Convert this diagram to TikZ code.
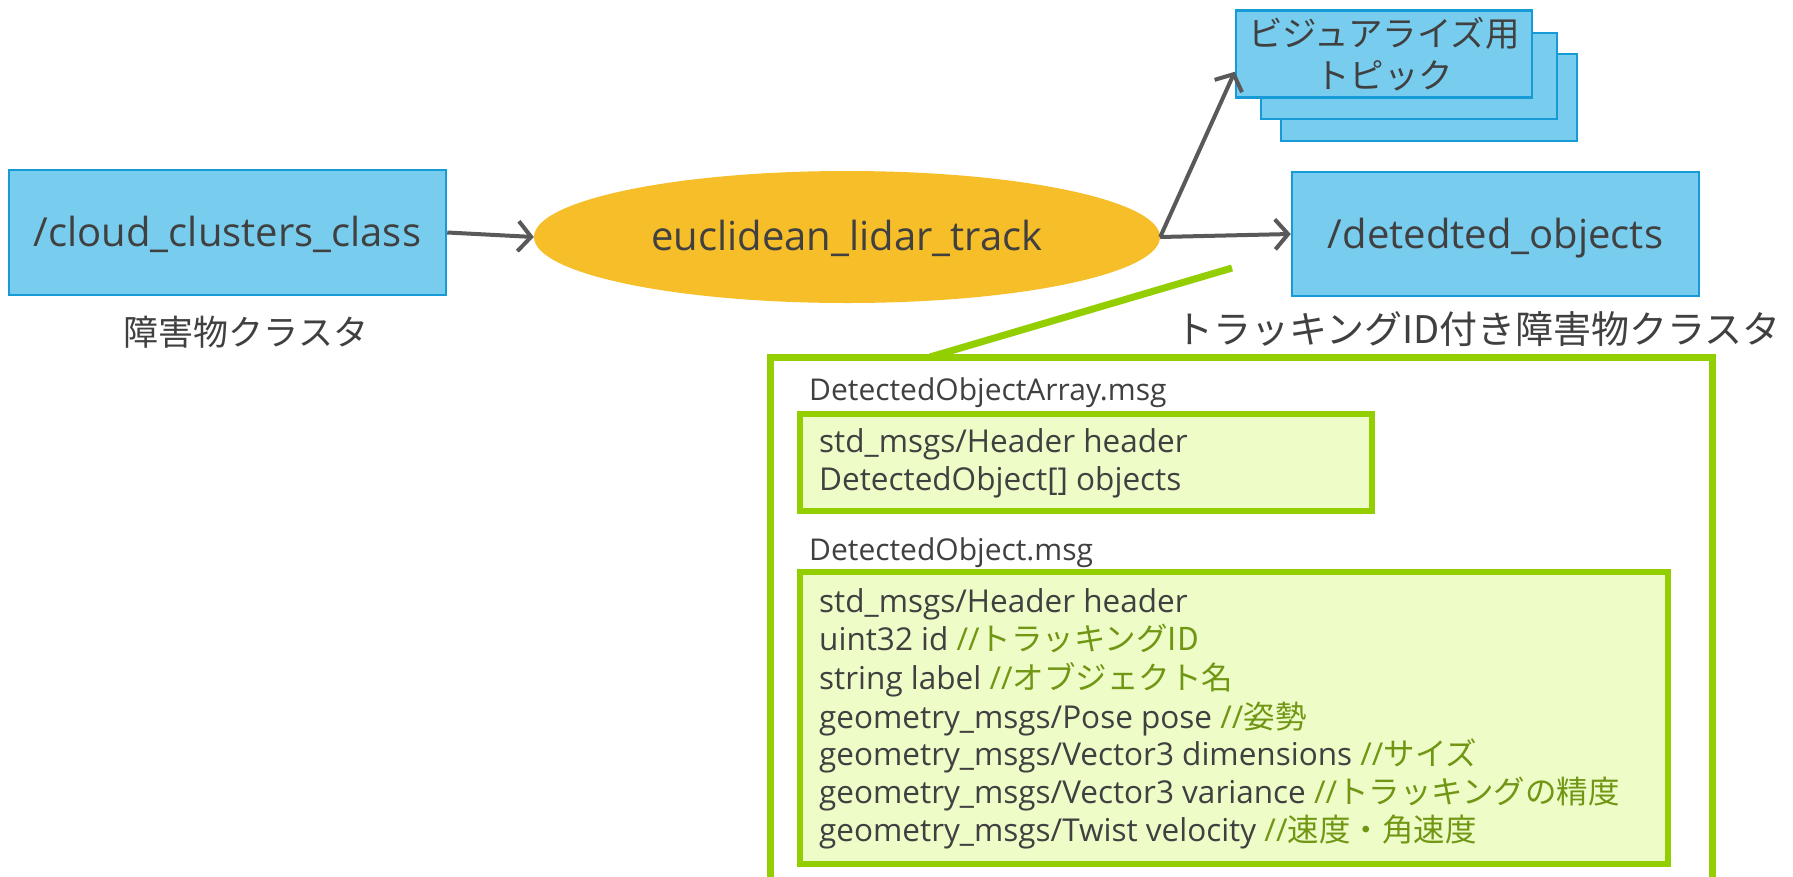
\documentclass[tikz,border=0pt]{standalone}
\usepackage{fontspec}
\setmainfont{Open Sans}
\newfontfamily\cjk{Noto Sans CJK JP}
\usetikzlibrary{shapes.geometric,arrows.meta}
\definecolor{boxblue}{RGB}{120,205,239}
\definecolor{boxedge}{RGB}{22,155,214}
\definecolor{ellfill}{RGB}{246,190,40}
\definecolor{txt}{RGB}{64,64,64}
\definecolor{arrowgray}{RGB}{89,89,89}
\definecolor{gline}{RGB}{146,206,0}
\definecolor{gfill}{RGB}{238,252,200}
\definecolor{cmt}{RGB}{112,150,20}
\begin{document}
\begin{tikzpicture}[x=1pt,y=-1pt,
  topic/.style={draw=boxedge, line width=2.5pt, fill=boxblue, inner sep=0pt, text=txt, align=center},
  bigfont/.style={font=\fontsize{40}{48}\selectfont, text height=36pt, text depth=8pt},
  node/.style={ellipse, fill=ellfill, inner sep=0pt, minimum width=626pt, minimum height=132pt, text=txt, font=\fontsize{40}{48}\selectfont, text height=35pt, text depth=8pt},
  flow/.style={draw=arrowgray, line width=4pt, -{Straight Barb[length=13pt,width=30pt,line width=4pt]}},
  outerbox/.style={draw=gline, line width=7pt, fill=white, inner sep=0pt},
  msgbox/.style={draw=gline, line width=6pt, fill=gfill, inner sep=0pt},
  gconn/.style={draw=gline, line width=7pt},
  head/.style={anchor=base west, inner sep=0pt, text=txt, font=\fontsize{30}{36}\selectfont},
  fld/.style={anchor=base west, inner sep=0pt, text=txt, font=\fontsize{31.5}{38}\selectfont},
  caption/.style={text=txt, inner sep=0pt}
]
\clip (0,0) rectangle (1793,876);
\fill[white] (0,0) rectangle (1793,876);

% stacked visualization topics
\node[topic, minimum width=296pt, minimum height=87pt] (stk3) at (1429,97.5) {};
\node[topic, minimum width=296pt, minimum height=86pt] (stk2) at (1409,76) {};
\node[topic, minimum width=296pt, minimum height=87pt, font=\cjk\fontsize{34.5}{42}\selectfont] (stk1) at (1384,54) {ビジュアライズ用\\トピック};

% main nodes
\node[topic, bigfont, minimum width=437pt, minimum height=125pt] (src) at (227.5,232.5) {/cloud\_clusters\_class};
\node[node] (ell) at (847,237) {euclidean\_lidar\_track};
\node[topic, bigfont, minimum width=407pt, minimum height=124pt] (dst) at (1495.5,234) {/detedted\_objects};

\node[caption, font=\cjk\fontsize{35}{42}\selectfont] (srccap) at (246,332) {障害物クラスタ};
\node[caption, font=\cjk\fontsize{38}{46}\selectfont] (dstcap) at (1478,329) {トラッキングID付き障害物クラスタ};

% connectors
\draw[flow] (src.east) -- (ell.west);
\draw[flow] (ell.east) -- (dst.west);
\draw[flow] (ell.east) -- ([yshift=27pt]stk1.south west);

% message definition panel
\node[outerbox, minimum width=942pt, minimum height=580pt] (outer) at (1241,647) {};
\coordinate (gtop) at (1232,268);
\coordinate (gbot) at (930,357);
\draw[gconn] (gtop) -- (gbot);

\node[head] (h1) at (809,400) {DetectedObjectArray.msg};
\node[msgbox, minimum width=572pt, minimum height=97pt] (arrbox) at (1086,462.5) {};
\node[fld] (a1) at (819,452) {std\_msgs/Header header};
\node[fld] (a2) at (819,490) {DetectedObject[] objects};

\node[head] (h2) at (809,560) {DetectedObject.msg};
\node[msgbox, minimum width=868pt, minimum height=292pt] (objbox) at (1234,718) {};
\node[fld] (b1) at (819,612) {std\_msgs/Header header};
\node[fld] (b2) at (819,650) {uint32 id {\color{cmt}//\cjk トラッキングID}};
\node[fld] (b3) at (819,689) {string label {\color{cmt}//\cjk オブジェクト名}};
\node[fld] (b4) at (819,728) {geometry\_msgs/Pose pose {\color{cmt}//\cjk 姿勢}};
\node[fld] (b5) at (819,765) {geometry\_msgs/Vector3 dimensions {\color{cmt}//\cjk サイズ}};
\node[fld] (b6) at (819,803) {geometry\_msgs/Vector3 variance {\color{cmt}//\cjk トラッキングの精度}};
\node[fld] (b7) at (819,841) {geometry\_msgs/Twist velocity {\color{cmt}//\cjk 速度・角速度}};
\end{tikzpicture}
\end{document}
